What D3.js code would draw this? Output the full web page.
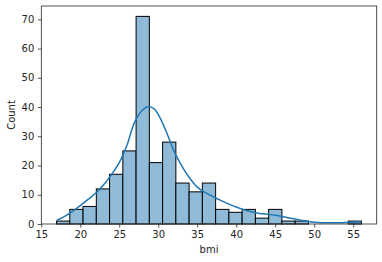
<!DOCTYPE html>
<html>
<head>
<meta charset="utf-8">
<script src="https://cdn.jsdelivr.net/npm/d3@7"></script>
<style>
  body { margin: 0; background: #fff; }
  text { font-family: "DejaVu Sans", sans-serif; fill: #262626; }
</style>
</head>
<body>
<script>
const width = 382,
      height = 262;

// histogram bins (bmi), left edges + counts
const binStart = 16.96,
      binWidth = 1.70;
const counts = [1, 5, 6, 12, 17, 25, 71, 21, 28, 14, 11, 14, 5, 4, 5, 2, 5, 1, 1, 0, 0, 0, 1];

// kde curve (scaled to counts)
const kdeX = [17.0, 18.0, 19.0, 20.0, 21.0, 22.0, 23.0, 24.0, 25.0, 26.0, 27.0, 28.0, 28.8, 29.5,
              30.0, 31.0, 32.0, 33.0, 34.0, 35.0, 36.0, 37.0, 38.0, 39.0, 40.0, 41.0, 42.0, 43.0,
              44.0, 45.0, 46.0, 47.0, 48.0, 49.0, 50.0, 51.0, 52.0, 53.0, 54.0, 55.0, 56.06];
const kdeY = [1.3, 2.6, 4.3, 6.3, 8.4, 10.6, 13.4, 16.9, 21.0, 27.0, 35.0, 39.0, 40.2, 39.3,
              37.5, 31.8, 25.0, 20.0, 15.8, 12.6, 10.8, 9.4, 8.1, 6.9, 5.8, 4.9, 4.2, 3.6,
              3.3, 3.0, 2.5, 2.0, 1.5, 1.0, 0.6, 0.45, 0.4, 0.4, 0.5, 0.6, 0.7];

const xTicks = [15, 20, 25, 30, 35, 40, 45, 50, 55];
const yTicks = [0, 10, 20, 30, 40, 50, 60, 70];

const margin = {left: 41.3, right: 5.3, top: 6, bottom: 38};

const bins = counts.map((c, i) => ({x0: binStart + i * binWidth, x1: binStart + (i + 1) * binWidth, n: c}));
const lo = bins[0].x0, hi = bins[bins.length - 1].x1;
const pad = (hi - lo) * 0.05;

const x = d3.scaleLinear()
    .domain([lo - pad, hi + pad])
    .range([margin.left, width - margin.right]);

const y = d3.scaleLinear()
    .domain([0, d3.max(counts) * 1.05])
    .range([height - margin.bottom, margin.top]);

const svg = d3.select("body")
    .append("svg")
    .attr("width", width)
    .attr("height", height);

svg.append("g")
    .selectAll("rect")
    .data(bins.filter(d => d.n > 0))
    .enter().append("rect")
    .attr("x", d => x(d.x0))
    .attr("width", d => x(d.x1) - x(d.x0))
    .attr("y", d => y(d.n))
    .attr("height", d => y(0) - y(d.n))
    .attr("fill", "#8fbbd9")
    .attr("stroke", "#000")
    .attr("stroke-width", 1);

const line = d3.line()
    .x(d => x(d[0]))
    .y(d => y(d[1]))
    .curve(d3.curveCatmullRom);

svg.append("path")
    .datum(d3.zip(kdeX, kdeY))
    .attr("fill", "none")
    .attr("stroke", "#1f77b4")
    .attr("stroke-width", 1.5)
    .attr("d", line);

// frame
svg.append("rect")
    .attr("x", margin.left)
    .attr("y", margin.top)
    .attr("width", width - margin.left - margin.right)
    .attr("height", height - margin.top - margin.bottom)
    .attr("fill", "none")
    .attr("stroke", "#262626")
    .attr("stroke-width", 0.8);

const xAxis = svg.append("g")
    .attr("transform", `translate(0,${height - margin.bottom})`)
    .call(d3.axisBottom(x).tickValues(xTicks).tickSize(3.5).tickPadding(3.5));

const yAxis = svg.append("g")
    .attr("transform", `translate(${margin.left},0)`)
    .call(d3.axisLeft(y).tickValues(yTicks).tickSize(3.5).tickPadding(3.5));

[xAxis, yAxis].forEach(a => {
  a.select(".domain").remove();
  a.selectAll("line").attr("stroke", "#262626").attr("stroke-width", 0.8);
  a.selectAll("text").style("font-size", "10px").style("font-family", "DejaVu Sans").attr("fill", "#262626");
});

svg.append("text")
    .attr("x", (margin.left + width - margin.right) / 2)
    .attr("y", 253)
    .attr("text-anchor", "middle")
    .style("font-size", "10px")
    .text("bmi");

svg.append("text")
    .attr("transform", `translate(15,${(margin.top + height - margin.bottom) / 2}) rotate(-90)`)
    .attr("text-anchor", "middle")
    .style("font-size", "10px")
    .text("Count");
</script>
</body>
</html>
